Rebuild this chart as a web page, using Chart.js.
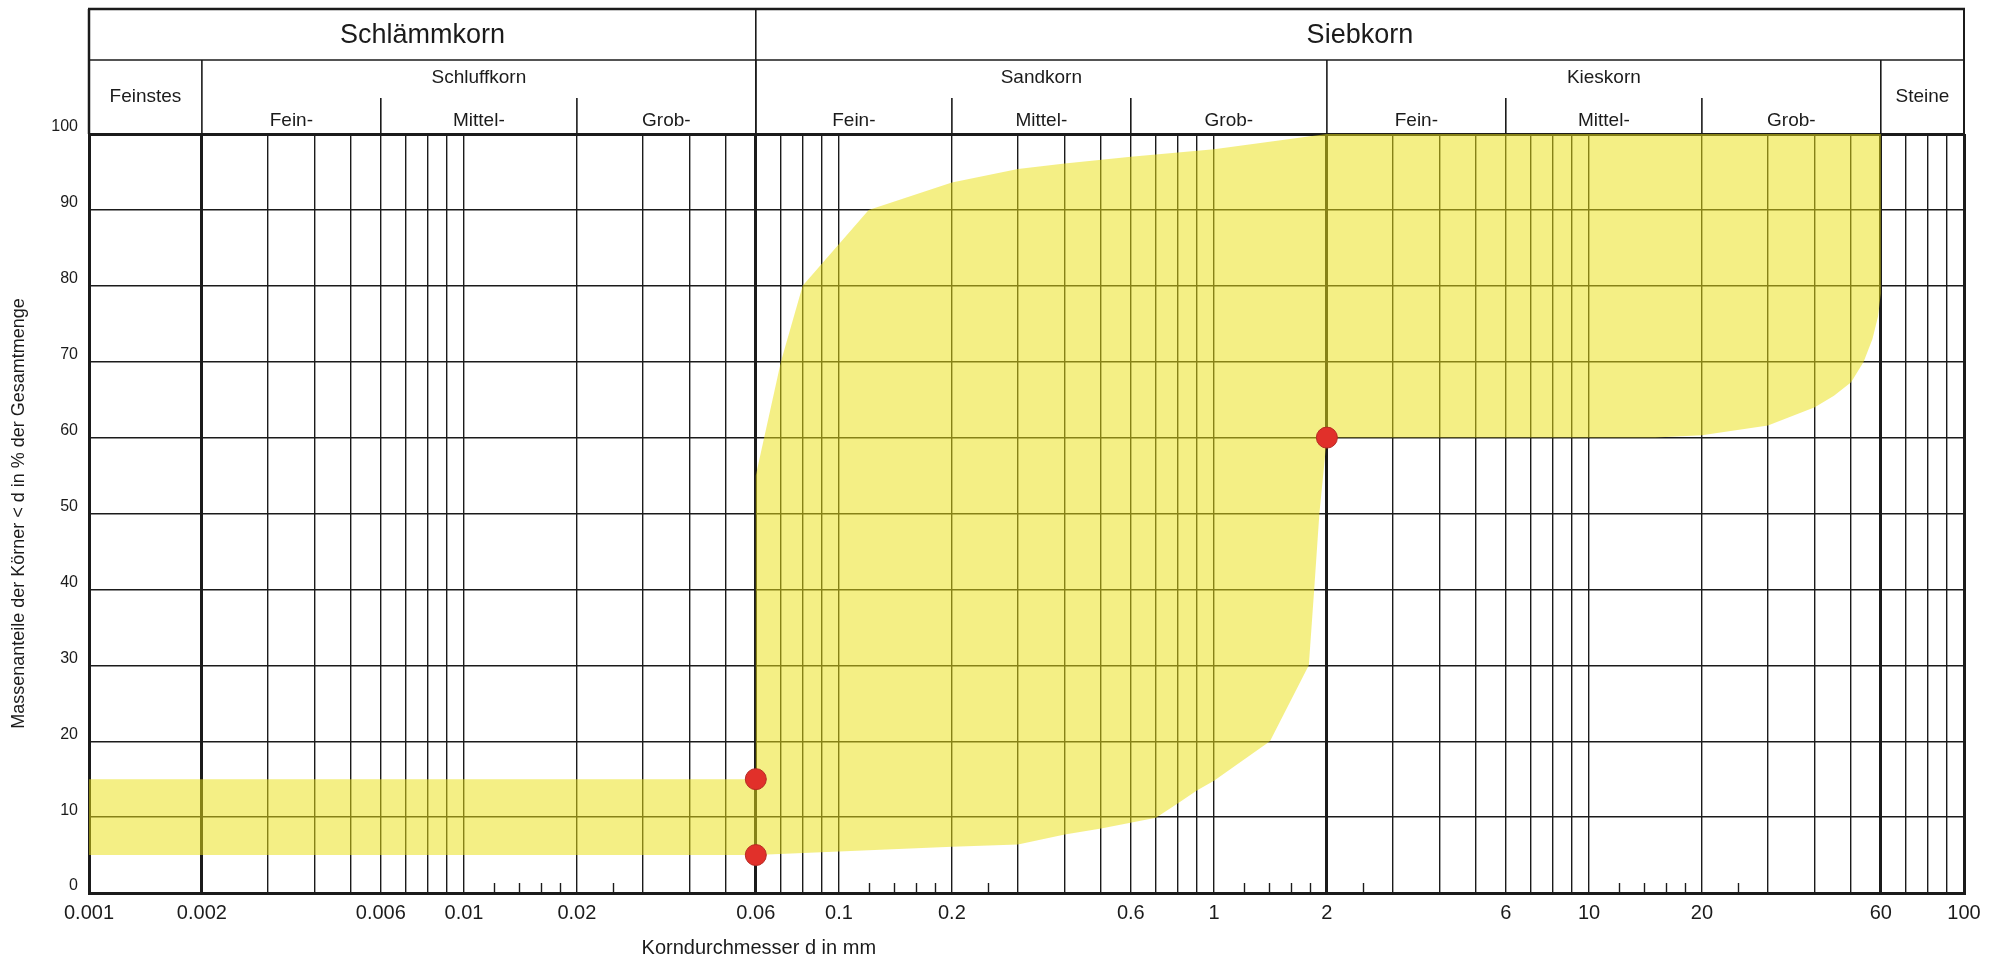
<!DOCTYPE html>
<html lang="de">
<head>
    <meta charset="UTF-8">
    <title>Körnungslinie</title>
    <script src="https://cdn.jsdelivr.net/npm/chart.js"></script>
    <style>
        body {
            margin: 0;
            padding: 0;
            background: #ffffff;
        }

        canvas {
            display: block;
        }
    </style>
</head>
<body>
    <canvas id="grading-chart" width="2000" height="962"></canvas>

    <script>
        // Hüllkurve des Körnungsbandes: Korngröße (mm) und Siebdurchgang (%), als geschlossener Umriss
        const bandSize = [0.001, 0.06, 0.06, 0.07, 0.08, 0.12, 0.2, 0.3, 0.4, 0.6, 1, 2,
            60, 60, 59, 57, 54, 50, 45, 40, 30, 20, 15,
            2, 1.91, 1.85, 1.79, 1.41, 1, 0.9, 0.8, 0.7, 0.5, 0.4, 0.3, 0.2, 0.06, 0.001];
        const bandPassing = [15, 15, 55, 70, 80, 90, 93.6, 95.4, 96.1, 97, 98, 100,
            100, 79, 76, 73, 70, 67.3, 65.5, 64, 61.6, 60.3, 60,
            60, 50, 40, 30, 20, 14.8, 13.5, 11.8, 9.9, 8.5, 7.7, 6.4, 6.1, 5, 5];

        // Markierte Punkte
        const pointSize = [0.06, 0.06, 2];
        const pointPassing = [15, 5, 60];

        // Achsen
        const xTickLabels = ['0.001', '0.002', '0.006', '0.01', '0.02', '0.06', '0.1', '0.2', '0.6',
            '1', '2', '6', '10', '20', '60', '100'];
        const yTickValues = [0, 10, 20, 30, 40, 50, 60, 70, 80, 90, 100];
        const gridDecades = [0.001, 0.01, 0.1, 1, 10];
        const gridSteps = [1, 2, 3, 4, 5, 6, 7, 8, 9];
        const minorDecades = [0.01, 0.1, 1, 10];
        const minorSteps = [1.2, 1.4, 1.6, 1.8, 2.5];
        const boldSizes = [0.001, 0.002, 0.06, 2, 60, 100];
        const xTitle = 'Korndurchmesser d in mm';
        const yTitle = 'Massenanteile der Körner < d in % der Gesamtmenge';

        // Kopfzeilen
        const mainGroups = ['Schlämmkorn', 'Siebkorn'];
        const mainBounds = [0.001, 0.06, 100];
        const soilGroups = ['Feinstes', 'Schluffkorn', 'Sandkorn', 'Kieskorn', 'Steine'];
        const soilBounds = [0.001, 0.002, 0.06, 2, 60, 100];
        const subGroups = ['Fein-', 'Mittel-', 'Grob-'];
        const subBounds = [null, [0.002, 0.006, 0.02, 0.06], [0.06, 0.2, 0.6, 2], [2, 6, 20, 60], null];

        const INK = '#1b1b1b';

        // Schmalschrift verwenden, falls installiert
        const fontAvailable = (name) => {
            const c = document.createElement('canvas').getContext('2d');
            const s = 'Schlämmkorn Siebkorn 0.001';
            c.font = '40px monospace';
            const w = c.measureText(s).width;
            c.font = '40px "' + name + '", monospace';
            return Math.abs(c.measureText(s).width - w) > 0.5;
        };
        const NARROW = fontAvailable('Liberation Sans Narrow');
        const FAMILY = NARROW ? '"Liberation Sans Narrow", "Liberation Sans", sans-serif' : '"Liberation Sans", Arial, sans-serif';
        const fs = (s) => NARROW ? Math.round(s / 0.82) : s;

        Chart.defaults.font.family = FAMILY;
        Chart.defaults.color = INK;

        const round = (v) => Number(v.toPrecision(6));
        const gridTicks = [];
        gridDecades.forEach((d) => gridSteps.forEach((m) => gridTicks.push(round(m * d))));
        gridTicks.push(100);

        const sameSize = (a, b) => Math.abs(Math.log10(a) - Math.log10(b)) < 1e-6;
        const isBold = (v) => boldSizes.some((b) => sameSize(b, v));

        const bandData = bandSize.map((d, i) => ({ x: d, y: bandPassing[i] }));
        const pointData = pointSize.map((d, i) => ({ x: d, y: pointPassing[i] }));

        // Kopf mit Bodenarten
        const headerPlugin = {
            id: 'soilHeader',
            afterDraw(chart) {
                const { ctx, chartArea: a, scales: { x } } = chart;
                const top = a.top - 125;
                const mid = a.top - 74;
                const sub = a.top - 36;
                const px = (v) => x.getPixelForValue(v);
                const line = (x1, y1, x2, y2, w) => {
                    ctx.lineWidth = w;
                    ctx.beginPath();
                    ctx.moveTo(x1, y1);
                    ctx.lineTo(x2, y2);
                    ctx.stroke();
                };
                const text = (t, cx, cy, size) => {
                    ctx.font = fs(size) + 'px ' + FAMILY;
                    ctx.fillText(t, cx, cy);
                };

                ctx.save();
                ctx.strokeStyle = INK;
                ctx.fillStyle = INK;
                ctx.textAlign = 'center';
                ctx.textBaseline = 'middle';

                line(a.left - 1, top, a.right + 1, top, 2.5);
                line(a.left, top, a.left, a.top, 2.5);
                line(a.right, top, a.right, a.top, 2);
                line(a.left, mid, a.right, mid, 1.6);

                mainBounds.slice(1, -1).forEach((v) => line(px(v), top, px(v), a.top, 1.6));
                soilBounds.slice(1, -1).forEach((v) => line(px(v), mid, px(v), a.top, 1.6));

                mainGroups.forEach((g, i) => {
                    text(g, (px(mainBounds[i]) + px(mainBounds[i + 1])) / 2, (top + mid) / 2 + 1, 27);
                });

                soilGroups.forEach((g, i) => {
                    const cx = (px(soilBounds[i]) + px(soilBounds[i + 1])) / 2;
                    const b = subBounds[i];
                    if (!b) {
                        text(g, cx, (mid + a.top) / 2, 19);
                        return;
                    }
                    text(g, cx, mid + 18, 19);
                    b.slice(1, -1).forEach((v) => line(px(v), sub, px(v), a.top, 1.6));
                    subGroups.forEach((s, k) => {
                        text(s, (px(b[k]) + px(b[k + 1])) / 2, a.top - 13, 19);
                    });
                });

                // Achsentitel unten
                text(xTitle, px(0.06) + 3, a.bottom + 55, 20);
                ctx.restore();
            }
        };

        // kurze Teilstriche an der Abszisse
        const minorTickPlugin = {
            id: 'minorTicks',
            beforeDatasetsDraw(chart) {
                const { ctx, chartArea: a, scales: { x } } = chart;
                ctx.save();
                ctx.strokeStyle = INK;
                ctx.lineWidth = 1.4;
                minorDecades.forEach((d) => minorSteps.forEach((m) => {
                    const p = Math.round(x.getPixelForValue(round(m * d))) + 0.5;
                    ctx.beginPath();
                    ctx.moveTo(p, a.bottom);
                    ctx.lineTo(p, a.bottom - 10);
                    ctx.stroke();
                }));
                ctx.restore();
            }
        };

        new Chart(document.getElementById('grading-chart').getContext('2d'), {
            type: 'line',
            data: {
                datasets: [
                    {
                        label: 'Punkte',
                        data: pointData,
                        showLine: false,
                        pointRadius: 10.5,
                        pointBackgroundColor: '#e1302a',
                        pointBorderColor: '#b52a22',
                        pointBorderWidth: 1,
                        order: 0
                    },
                    {
                        label: 'Körnungsband',
                        data: bandData,
                        fill: 'shape',
                        backgroundColor: 'rgba(233, 224, 22, 0.52)',
                        borderColor: 'transparent',
                        borderWidth: 0,
                        pointRadius: 0,
                        tension: 0,
                        order: 1
                    }
                ]
            },
            options: {
                responsive: false,
                animation: false,
                layout: {
                    padding: { top: 134, right: 36, left: 0, bottom: 0 }
                },
                plugins: {
                    legend: { display: false },
                    tooltip: { enabled: false }
                },
                scales: {
                    x: {
                        type: 'logarithmic',
                        min: 0.001,
                        max: 100,
                        afterBuildTicks: (scale) => {
                            scale.ticks = gridTicks.map((v) => ({ value: v }));
                        },
                        afterFit: (scale) => {
                            scale.height = 69;
                        },
                        ticks: {
                            autoSkip: false,
                            maxRotation: 0,
                            minRotation: 0,
                            padding: 8,
                            font: { size: fs(20) },
                            callback: (v) => {
                                const l = xTickLabels.find((t) => sameSize(Number(t), v));
                                return l || '';
                            }
                        },
                        grid: {
                            drawTicks: false,
                            color: INK,
                            lineWidth: (c) => (c.tick && isBold(c.tick.value)) ? 3 : 1.4
                        },
                        border: { width: 3, color: INK }
                    },
                    y: {
                        min: 0,
                        max: 100,
                        afterBuildTicks: (scale) => {
                            scale.ticks = yTickValues.map((v) => ({ value: v }));
                        },
                        afterFit: (scale) => {
                            scale.width = 89;
                        },
                        ticks: {
                            padding: 11,
                            labelOffset: -7,
                            font: { size: fs(16) }
                        },
                        grid: {
                            drawTicks: false,
                            color: INK,
                            lineWidth: (c) => (c.tick && (c.tick.value === 0 || c.tick.value === 100)) ? 3 : 1.4
                        },
                        border: { width: 3, color: INK },
                        title: {
                            display: true,
                            text: yTitle,
                            font: { size: fs(18) },
                            padding: { top: 8, bottom: 0 }
                        }
                    }
                }
            },
            plugins: [minorTickPlugin, headerPlugin]
        });
    </script>
</body>
</html>
